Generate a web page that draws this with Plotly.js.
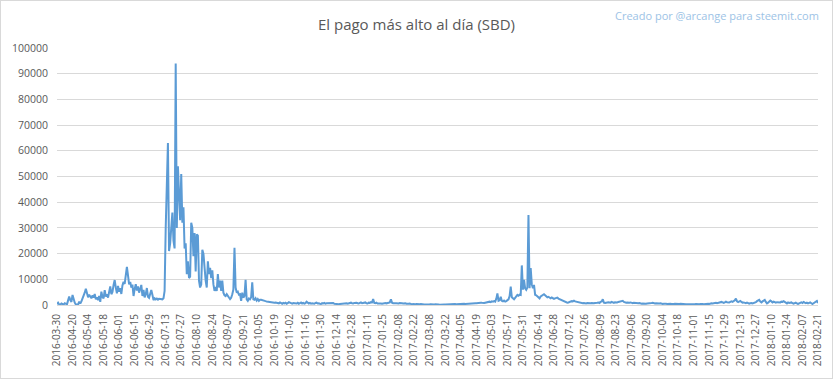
<!DOCTYPE html>
<html>
<head>
<meta charset="utf-8">
<script src="https://cdn.plot.ly/plotly-3.0.1.min.js"></script>
<style>
  html, body { margin: 0; padding: 0; background: #fff; }
  #frame { width: 833px; height: 379px; box-sizing: border-box; border: 1px solid #D9D9D9; }
  #chart { width: 831px; height: 377px; }
</style>
</head>
<body>
<div id="frame"><div id="chart"></div></div>
<script>
// ---- data (SBD) ----
const firstDate = '2016-03-30';
const lastDate = '2018-02-21';

const tickLabels = [
  '2016-03-30','2016-04-20','2016-05-04','2016-05-18','2016-06-01','2016-06-15','2016-06-29',
  '2016-07-13','2016-07-27','2016-08-10','2016-08-24','2016-09-07','2016-09-21','2016-10-05',
  '2016-10-19','2016-11-02','2016-11-16','2016-11-30','2016-12-14','2016-12-28','2017-01-11',
  '2017-01-25','2017-02-08','2017-02-22','2017-03-08','2017-03-22','2017-04-05','2017-04-19',
  '2017-05-03','2017-05-17','2017-05-31','2017-06-14','2017-06-28','2017-07-12','2017-07-26',
  '2017-08-09','2017-08-23','2017-09-06','2017-09-20','2017-10-04','2017-10-18','2017-11-01',
  '2017-11-15','2017-11-29','2017-12-13','2017-12-27','2018-01-10','2018-01-24','2018-02-07',
  '2018-02-21'
];

// 2016-03-30 .. mid July 2016
const payA = [
  300, 900, 200, 100, 600, 300, 150, 700, 400, 250,
  1800, 3300, 1900, 1200, 3900, 2100, 900, 200, 300, 150,
  1300, 600, 1400, 2500, 2900, 4800, 6300, 4200, 3000, 4000,
  3400, 2600, 3700, 2900, 4300, 2200, 3000, 1900, 3500, 1200,
  5200, 3100, 2600, 5800, 3300, 4100, 2900, 5000, 7200, 4200,
  5100, 7800, 9700, 6800, 4500, 7400, 5200, 6500, 4300, 7600,
  9000, 8200, 11000, 14800, 11500, 8000, 9000, 6800, 7900, 3500,
  6200, 8100, 5600, 7200, 4800, 6500, 7800, 3500, 5900, 3000,
  4200, 6600, 3200, 2800, 4400, 5800, 4000, 1900, 2600, 2200,
  2500, 2100, 2400, 2300, 2500, 2200, 2600
];
// July 2016 .. early October 2016 (big peak)
const payB = [
  5500, 30000, 52000, 63000, 21000, 24000, 30000, 36000, 25000, 22000,
  94000, 30000, 54000, 42000, 33000, 51000, 32000, 38000, 22000, 24000,
  12000, 17000, 10500, 11000, 32000, 30000, 19000, 28000, 13000, 27500,
  27000, 9500, 6800, 8000, 21500, 20000, 13000, 9500, 6800, 17000,
  12000, 14500, 10500, 13500, 8000, 5500, 7000, 5500, 12000, 6800,
  9500, 5500, 9500, 4800, 3800, 3500, 4200, 3200, 2900, 2300,
  2800, 4200, 6000, 22300, 6800, 4800, 5200, 4000, 4200, 1600,
  4800, 2900, 3500, 9800, 2200, 1600, 2500, 2200, 3000, 8800,
  2200, 2000, 2600, 1700, 2300, 1600, 2000
];
// October 2016 .. early May 2017
const payC = [
  2000, 1800, 1900, 1600, 1500, 1400, 1300, 1400, 1200, 1100, 1000, 1050, 900, 950, 800, 700, 650,
  1000, 700, 500, 800, 600, 900, 500, 700, 1100, 900, 600, 500, 800, 700, 400,
  600, 900, 500, 700, 1000, 600, 800, 500, 700, 1300, 900, 600, 800, 500, 700,
  650, 500, 800, 900, 600, 700, 500, 400, 700, 600,
  800, 500, 650, 700, 500, 800, 600, 900, 800, 500,
  400, 600, 500, 300, 400, 500, 400, 600, 500, 650,
  700, 500, 600, 800, 900, 700, 600, 800, 1000, 900,
  700, 600, 800, 1000, 700, 900, 800, 1000, 700, 600,
  900, 800, 1100, 1000,
  2300,
  800, 700, 900, 600, 650, 700, 600, 500, 700, 600, 800, 650, 700, 900, 1000,
  2200,
  900, 700, 600, 650, 700, 500, 600, 800, 900, 700, 600, 800, 700, 500, 400, 500, 600,
  300, 250, 400, 200, 300, 350, 250, 200, 300, 400,
  250, 300, 200, 150, 250, 300, 200, 250, 300, 200,
  150, 200, 250, 300, 200, 150, 100, 200, 150, 250,
  200, 150, 200, 300, 250, 200, 150, 200, 250, 300,
  350, 250, 300, 400, 350, 300, 400, 350, 500, 400,
  450, 500,
  600, 500, 700, 650, 600, 800, 700, 650, 750, 700, 800, 900,
  850, 700, 800, 900, 1000, 1100, 1200, 1300, 1100, 1400, 1300, 1500
];
// May 2017 .. early August 2017 (second peak)
const payD = [
  1300, 2400, 4500, 1600, 1800, 3200, 1600, 1400, 1700, 1300,
  1500, 1800, 2200, 3500, 7200, 3000, 2600, 2200, 2800, 3300,
  3900, 3600, 4000, 3900, 15400, 6000, 9800, 6500, 5900, 6800,
  35000, 6500, 14400, 8000, 6500, 7800, 4000, 3800, 3300, 3000,
  2600, 3300, 3600, 3800, 4200, 3800, 3300, 3000, 3200, 2800,
  2600, 2900, 2700, 2400, 2600, 2800, 2900, 2500, 2300, 2000,
  1800, 1500, 1300, 1100, 1200, 900, 1000, 1200, 1300, 1500,
  1400, 1700, 1400, 1300, 1100, 1000, 900, 800, 900, 700,
  800, 700, 600, 800, 700, 600, 700, 800, 600, 700,
  800, 700, 900, 1000, 800, 1200, 1400, 2200, 900
];
// August 2017 .. 2018-02-21
const payE = [
  800, 1000, 900, 1100, 1000, 900, 1200, 1000, 800, 1100, 900, 1000, 1200, 1300, 1100, 1400, 1600,
  1200, 1000, 900, 1000, 800, 900, 1000, 800, 700, 900, 800, 700, 600, 700, 800, 600, 500, 600, 500, 400,
  500, 600, 700, 900, 700, 800, 900, 700, 600, 700, 600, 500, 600, 700, 500,
  400, 500, 600, 500, 400, 500, 600, 500, 400, 300, 400, 500, 400, 300, 400,
  400, 500, 400, 300, 400, 300, 250, 300, 400, 300, 250, 200, 300, 250, 300,
  400, 300, 250, 300, 400, 500, 400, 300, 400, 500, 600, 500, 400, 600, 700,
  600, 700, 800, 900, 700, 800, 1000, 900, 1200, 1000, 800, 1000, 1300, 1100, 900, 1000, 1200, 1400, 1200, 1500, 1800,
  2500,
  1400, 1100, 1300, 1600, 1200, 900, 1000, 800, 700, 900, 600, 500, 700, 800, 600, 700, 900, 1100,
  1500, 1800, 2000, 1300, 1000, 1400, 1700, 2000, 1200, 600,
  900, 1200, 1700, 1400, 1000, 1300, 1200, 900, 1100, 1000, 800, 1000, 1300, 1200, 1500, 1000, 900, 600, 1000, 800,
  900, 1000, 700, 500, 700, 900, 600, 400, 600, 900, 1000, 800, 1200, 900, 700, 900, 600, 800, 1000, 700,
  400, 700, 900, 1100, 1600, 800
];

const topPay = payA.concat(payB, payC, payD, payE);

// category labels: first day, then consecutive days ending on lastDate
function fmt(d) { return d.toISOString().slice(0, 10); }
const endMs = Date.parse(lastDate + 'T00:00:00Z');
const days = topPay.map((v, i) => i === 0 ? firstDate : fmt(new Date(endMs - (topPay.length - 1 - i) * 86400000)));

const trace = {
  type: 'scatter', mode: 'lines',
  x: days, y: topPay,
  line: { color: '#5B9BD5', width: 2 },
  hoverinfo: 'x+y'
};

const layout = {
  width: 831, height: 377,
  margin: { l: 56, r: 14, t: 47, b: 73, pad: 0 },
  paper_bgcolor: '#ffffff', plot_bgcolor: '#ffffff',
  showlegend: false,
  font: { family: 'Open Sans, sans-serif', color: '#595959' },
  title: {
    text: 'El pago más alto al día (SBD)',
    font: { family: 'Open Sans, sans-serif', size: 15, color: '#595959' },
    xref: 'container', x: 0.5, xanchor: 'center',
    yref: 'container', y: 0.938, yanchor: 'middle'
  },
  xaxis: {
    type: 'category',
    range: [0, topPay.length - 1],
    tickmode: 'array', tickvals: tickLabels, ticktext: tickLabels,
    tickangle: -90,
    tickfont: { family: 'Open Sans, sans-serif', size: 10, color: '#595959' },
    showgrid: false, zeroline: false, showline: false, ticks: '',
    ticklabelstandoff: 6
  },
  yaxis: {
    range: [0, 100000], dtick: 10000, tick0: 0, tickformat: 'd',
    tickfont: { family: 'Open Sans, sans-serif', size: 10.5, color: '#595959' },
    showgrid: true, gridcolor: '#D9D9D9', gridwidth: 1,
    zeroline: true, zerolinecolor: '#D9D9D9', zerolinewidth: 1,
    showline: false, ticks: '', ticklabelstandoff: 8
  },
  annotations: [{
    text: 'Creado por @arcange para steemit.com',
    xref: 'paper', yref: 'paper', x: 1.004, y: 1.128,
    xanchor: 'right', yanchor: 'middle', showarrow: false,
    font: { family: 'Open Sans, sans-serif', size: 11, color: '#9DC3E6' }
  }]
};

Plotly.newPlot('chart', [trace], layout, { staticPlot: true, displayModeBar: false });
</script>
</body>
</html>
